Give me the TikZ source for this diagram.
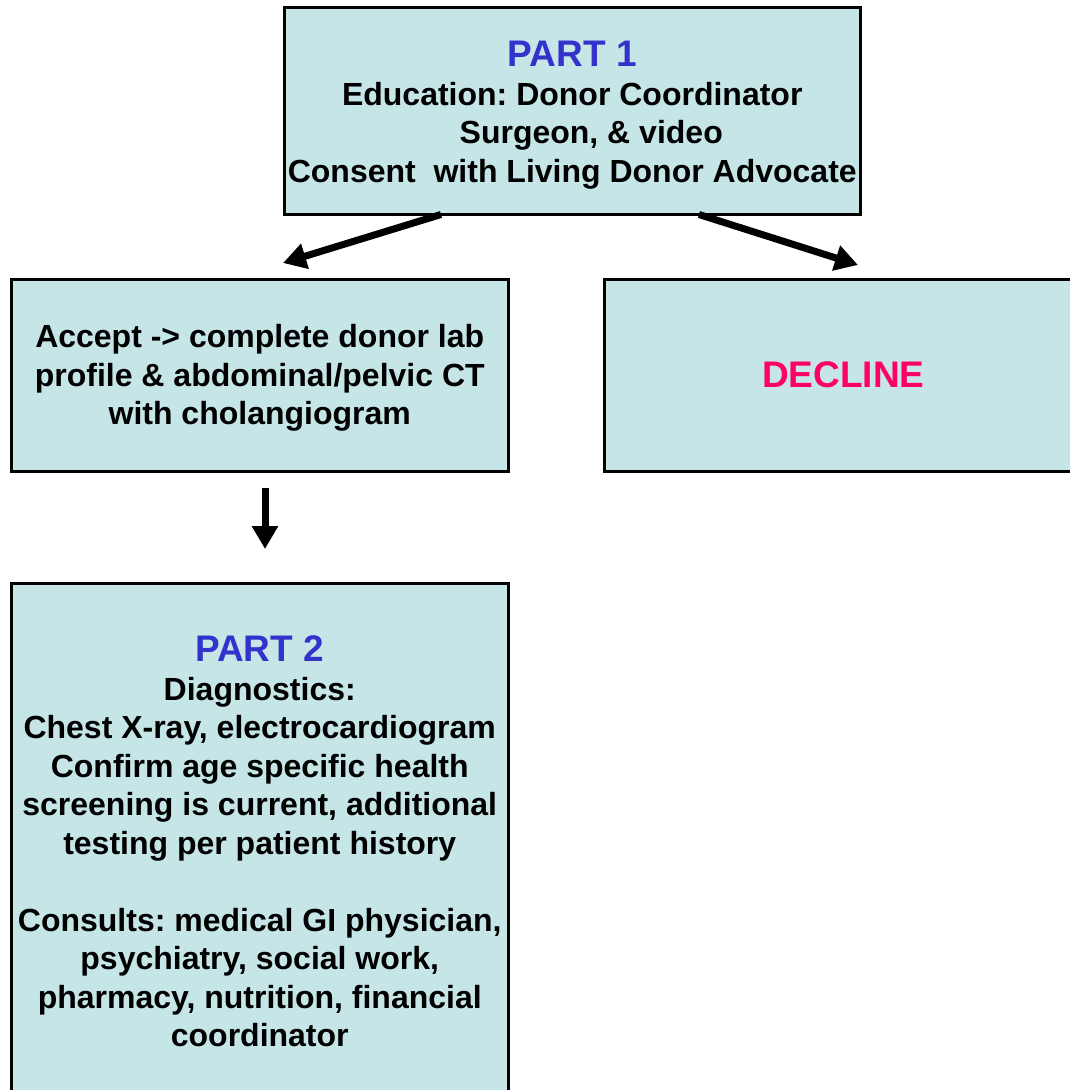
\documentclass[tikz,border=0pt]{standalone}
\usepackage{fontspec}
\setmainfont{Liberation Sans}
\usetikzlibrary{arrows.meta,positioning}
\definecolor{boxfill}{RGB}{197,229,231}
\definecolor{partblue}{RGB}{51,51,204}
\definecolor{declinered}{RGB}{255,0,102}

\begin{document}
\begin{tikzpicture}[x=1pt, y=-1pt,
    stepbox/.style={rectangle, draw=black, line width=2.5pt, fill=boxfill,
    align=center, anchor=north west, inner sep=0pt,
    font=\bfseries\frenchspacing\fontsize{32}{38.5}\selectfont},
    flow/.style={line width=7pt, -{Triangle[length=23pt,width=25pt]}}]
    \useasboundingbox (0,0) rectangle (1070,1090);
    \clip (0,0) rectangle (1070,1090);

    \node (part1) [stepbox, minimum width=576pt, minimum height=207pt] at (283,6)
    {
        \vphantom{Ag}\\[-26pt]
        {\color{partblue}\fontsize{37}{40}\selectfont PART 1} \\
        Education: Donor Coordinator \\
        \hspace*{38pt}Surgeon, \& video \\
        Consent\ \ with Living Donor Advocate
    };

    \node (accept) [stepbox, minimum width=497pt, minimum height=192pt] at (10,278)
    {
        \vphantom{Ag}\\[-32pt]
        Accept -> complete donor lab \\
        profile \& abdominal/pelvic CT \\
        with cholangiogram
    };

    \node (decline) [stepbox, minimum width=478pt, minimum height=192pt, text=declinered,
    font=\bfseries\fontsize{37}{40}\selectfont] at (603,278)
    {DECLINE};

    \node (part2) [stepbox, minimum width=497pt, minimum height=516pt] at (10,582)
    {
        {\color{partblue}\fontsize{37}{40}\selectfont PART 2} \\
        Diagnostics: \\
        Chest X-ray, electrocardiogram \\
        Confirm age specific health \\
        screening is current, additional \\
        testing per patient history \\[38.5pt]
        Consults: medical GI physician, \\
        psychiatry, social work, \\
        pharmacy, nutrition, financial \\
        coordinator
    };

    \coordinate (acceptTip) at (283,263);
    \coordinate (declineTip) at (858,265);
    \coordinate (part2Tip) at (265,549);

    \draw [flow] (part1.south west) ++(158,-1) -- (acceptTip);
    \draw [flow] (part1.south west) ++(416,-1) -- (declineTip);
    \draw [flow] (accept.south -| part2Tip) ++(0,15) -- (part2Tip);
\end{tikzpicture}
\end{document}
